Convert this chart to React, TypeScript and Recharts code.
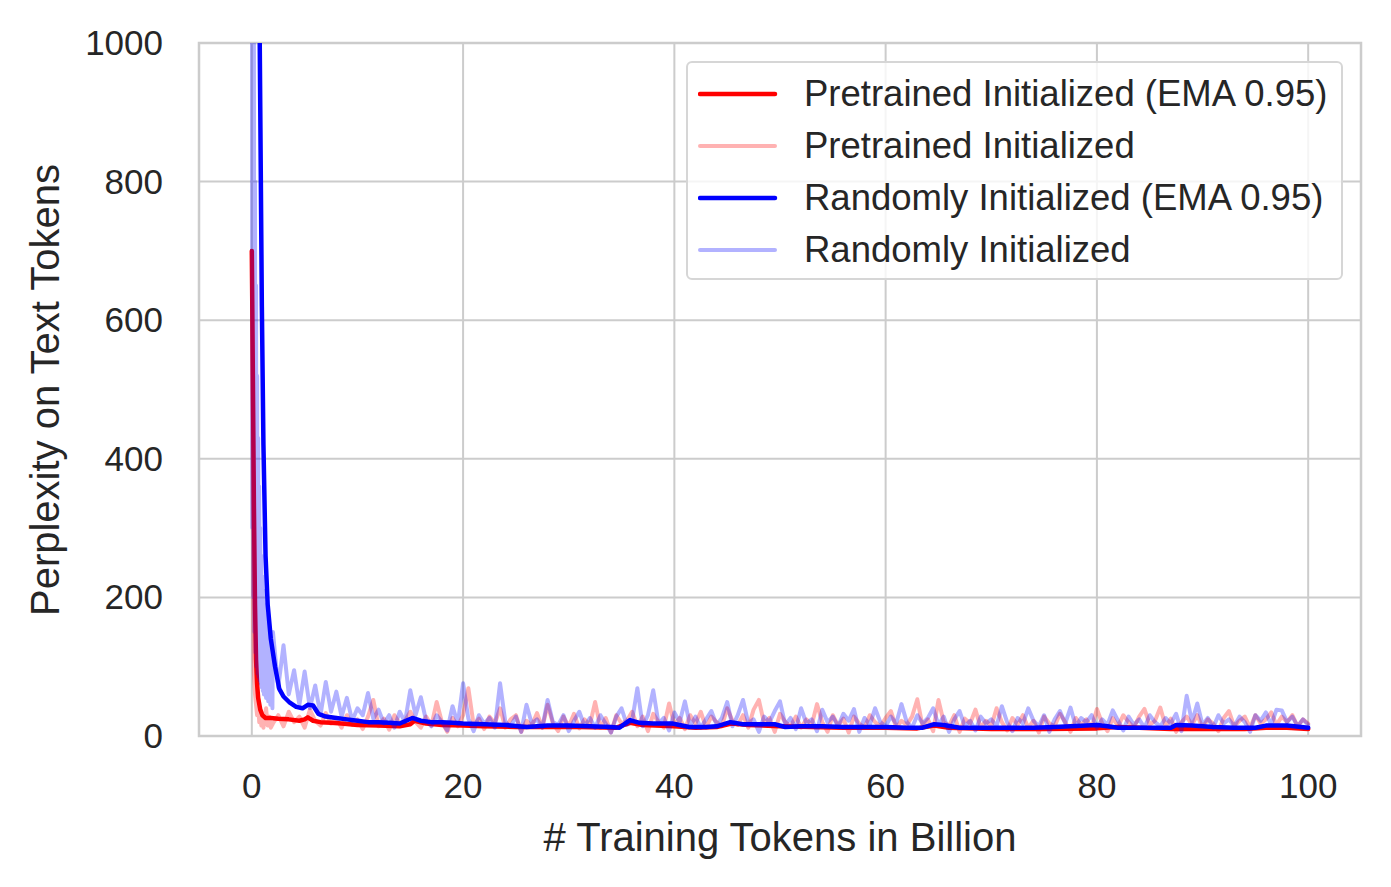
import React from 'react';
import {
  LineChart,
  Line,
  XAxis,
  YAxis,
  CartesianGrid,
  ReferenceArea,
} from 'recharts';

// x ticks / y ticks
const xTicks = [0, 20, 40, 60, 80, 100];
const yTicks = [0, 200, 400, 600, 800, 1000];

// first ~2B tokens, read point by point
const redRawEarlyX = [0, 0.05, 0.1, 0.15, 0.2, 0.3, 0.4, 0.5, 0.6, 0.7, 0.8, 0.9, 1.0, 1.1, 1.2, 1.35, 1.5, 1.65, 1.8];
const redRawEarlyY = [700, 500, 300, 150, 90, 60, 45, 30, 50, 20, 38, 15, 30, 12, 26, 40, 15, 28, 12];

const blueRawEarlyX = [
  0, 0.05, 0.1, 0.15, 0.2, 0.25, 0.3, 0.35, 0.4, 0.45, 0.5, 0.55, 0.6, 0.65, 0.7, 0.75, 0.8, 0.85, 0.9, 0.95,
  1.0, 1.05, 1.1, 1.15, 1.2, 1.25, 1.3, 1.35, 1.4, 1.45, 1.5, 1.55, 1.6, 1.65, 1.7, 1.75, 1.8, 1.85, 1.9, 1.95,
];
const blueRawEarlyY = [
  1400, 300, 1200, 200, 1000, 150, 800, 120, 650, 100, 520, 90, 430, 85, 360, 80, 300, 75, 260, 70,
  230, 65, 210, 60, 190, 60, 175, 55, 165, 55, 155, 50, 150, 50, 140, 45, 130, 45, 120, 40,
];

// after that, one reading every 0.5B tokens starting at 2B
const RAW_START = 2;
const RAW_STEP = 0.5;

const redRaw = [
  18, 30, 14, 35, 20, 28, 12, 38, 22, 15, 33, 18, 26, 12, 30, 16, 24, 10, 28, 52,
  14, 25, 9, 30, 18, 22, 35, 20, 12, 28, 15, 49, 20, 6, 26, 14, 30, 69, 16, 25,
  10, 28, 18, 40, 12, 24, 30, 6, 22, 15, 33, 12, 45, 18, 7, 28, 14, 32, 11, 24,
  16, 49, 12, 26, 5, 30, 18, 22, 35, 14, 28, 7, 32, 20, 12, 47, 16, 26, 10, 30,
  18, 35, 12, 28, 20, 14, 40, 22, 16, 30, 12, 38, 52, 18, 26, 6, 32, 20, 14, 28,
  12, 24, 16, 46, 20, 6, 30, 15, 25, 5, 28, 18, 12, 30, 20, 14, 26, 36, 12, 22,
  16, 28, 53, 14, 24, 7, 52, 20, 15, 30, 6, 25, 18, 38, 12, 22, 14, 40, 20, 8,
  26, 16, 30, 12, 22, 5, 28, 18, 14, 32, 20, 6, 26, 16, 24, 12, 39, 18, 7, 26,
  14, 30, 20, 12, 28, 39, 16, 22, 41, 14, 25, 6, 20, 28, 16, 30, 12, 24, 18, 7,
  26, 36, 14, 22, 28, 12, 30, 18, 24, 34, 16, 28, 20, 30, 14, 24, 18,
];

const blueRaw = [
  150, 70, 131, 60, 95, 45, 93, 40, 73, 30, 78, 35, 64, 28, 55, 22, 40, 30, 62, 25,
  38, 18, 30, 12, 35, 20, 66, 30, 56, 22, 14, 30, 20, 8, 43, 18, 76, 25, 7, 30,
  18, 26, 12, 76, 20, 14, 28, 6, 45, 18, 24, 12, 52, 20, 16, 30, 7, 22, 35, 14,
  26, 12, 30, 18, 5, 28, 40, 16, 22, 69, 14, 30, 66, 18, 26, 8, 34, 20, 50, 14,
  28, 12, 24, 36, 16, 26, 49, 14, 30, 52, 18, 24, 6, 28, 20, 36, 50, 16, 26, 10,
  40, 18, 24, 7, 38, 20, 28, 14, 32, 22, 39, 6, 26, 16, 40, 20, 14, 28, 18, 46,
  20, 12, 30, 18, 26, 40, 16, 28, 6, 24, 36, 14, 22, 8, 28, 18, 24, 14, 43, 20,
  7, 26, 18, 40, 22, 14, 30, 6, 24, 36, 18, 41, 14, 26, 20, 30, 12, 24, 16, 37,
  22, 8, 28, 16, 24, 12, 30, 20, 14, 26, 18, 32, 7, 58, 20, 47, 16, 26, 12, 30,
  18, 24, 14, 28, 20, 6, 30, 22, 34, 16, 38, 37, 20, 28, 14, 24, 16,
];

// EMA 0.95 curves
const redEmaX = [
  0, 0.1, 0.2, 0.3, 0.4, 0.5, 0.6, 0.8, 1.0, 1.3, 1.8, 2.5, 3.5, 4.5, 5.0, 5.3, 5.8, 6.5, 7.5, 8.5,
  10, 12, 14, 15, 15.4, 16.5, 18, 20, 22, 25, 28, 31, 34.5, 35.8, 37, 40, 42, 44, 45.4, 47,
  50, 53, 56, 60, 63, 64.6, 66, 70, 75, 80, 82, 84, 87, 90, 94, 96, 98, 100,
];
const redEmaY = [
  700, 520, 330, 190, 110, 75, 55, 38, 30, 26, 26, 25, 24, 22, 24, 27, 22, 20, 19, 18,
  16, 15, 14, 17, 22, 18, 16, 15, 14, 13, 13, 13, 12, 19, 16, 14, 12, 13, 18, 16,
  14, 13, 12, 12, 11, 15, 12, 10, 10, 11, 13, 12, 10, 10, 10, 12, 12, 10,
];

const blueEmaX = [
  0.6, 0.75, 0.95, 1.1, 1.3, 1.5, 1.8, 2.2, 2.6, 3.0, 3.6, 4.2, 4.8, 5.3, 5.8, 6.3, 7, 8, 9, 10,
  11, 12, 13, 14, 15.2, 16, 17, 18, 19, 20, 22, 24, 26, 28, 30, 32, 34, 34.8, 35.8, 36.7,
  38, 39.8, 41.4, 43, 44, 45.3, 46.5, 48, 49.5, 50.5, 52, 54, 56, 58, 60, 62, 63.5, 64.6, 65.5, 67,
  70, 72, 74, 76, 77.5, 79, 80, 81, 82, 84, 86, 87, 87.5, 89, 91, 93, 95, 96, 98, 100,
];
const blueEmaY = [
  1500, 1000, 620, 420, 260, 190, 140, 100, 68, 57, 48, 42, 40, 45, 44, 32, 28, 26, 24, 22,
  20, 20, 19, 18, 26, 22, 20, 20, 19, 18, 17, 16, 13, 15, 15, 14, 13, 12, 23, 19,
  18, 18, 13, 13, 14, 20, 17, 17, 17, 13, 14, 14, 13, 13, 13, 12, 12, 17, 16, 12,
  12, 12, 12, 13, 14, 15, 16, 14, 12, 12, 12, 12, 16, 15, 13, 12, 12, 15, 15, 12,
];

const pairs = (xs: number[], ys: number[]) => xs.map((x, i) => ({ x, y: ys[i] }));
const regular = (ys: number[]) => ys.map((y, i) => ({ x: RAW_START + i * RAW_STEP, y }));

const redRawData = [...pairs(redRawEarlyX, redRawEarlyY), ...regular(redRaw)];
const blueRawData = [...pairs(blueRawEarlyX, blueRawEarlyY), ...regular(blueRaw)];
const redEmaData = pairs(redEmaX, redEmaY);
const blueEmaData = pairs(blueEmaX, blueEmaY);

const FONT = '"Liberation Sans", Arial, Helvetica, sans-serif';
const TEXT = '#262626';
const GRID = '#cccccc';

const legendItems = [
  { label: 'Pretrained Initialized (EMA 0.95)', color: '#ff0000', opacity: 1, width: 4.5 },
  { label: 'Pretrained Initialized', color: '#ff0000', opacity: 0.3, width: 4 },
  { label: 'Randomly Initialized (EMA 0.95)', color: '#0000ff', opacity: 1, width: 4.5 },
  { label: 'Randomly Initialized', color: '#0000ff', opacity: 0.3, width: 4 },
];

const XTick = (props: any) => (
  <text x={props.x} y={798} textAnchor="middle" fontFamily={FONT} fontSize={35} fill={TEXT}>
    {props.payload.value}
  </text>
);

const YTick = (props: any) => (
  <text x={163} y={props.y + 12} textAnchor="end" fontFamily={FONT} fontSize={35} fill={TEXT}>
    {props.payload.value}
  </text>
);

export default function App() {
  return (
    <div style={{ position: 'absolute', left: 0, top: 0, width: 1391, height: 887, background: '#fff' }}>
      <LineChart width={1391} height={887} margin={{ top: 43, right: 30, left: 0, bottom: 0 }}>
        <CartesianGrid stroke={GRID} strokeWidth={2} />
        <XAxis
          type="number"
          dataKey="x"
          domain={[-5, 105]}
          ticks={xTicks}
          height={151}
          axisLine={false}
          tickLine={false}
          tick={<XTick />}
          allowDataOverflow
        />
        <YAxis
          type="number"
          dataKey="y"
          domain={[0, 1000]}
          ticks={yTicks}
          width={199}
          axisLine={false}
          tickLine={false}
          tick={<YTick />}
          allowDataOverflow
        />
        <ReferenceArea x1={-5} x2={105} y1={0} y2={1000} fill="none" stroke={GRID} strokeWidth={2.5} />
        <Line
          data={redEmaData}
          dataKey="y"
          stroke="#ff0000"
          strokeWidth={4.5}
          dot={false}
          isAnimationActive={false}
          strokeLinejoin="round"
          strokeLinecap="round"
        />
        <Line
          data={redRawData}
          dataKey="y"
          stroke="#ff0000"
          strokeOpacity={0.3}
          strokeWidth={4}
          dot={false}
          isAnimationActive={false}
          strokeLinejoin="round"
          strokeLinecap="round"
        />
        <Line
          data={blueEmaData}
          dataKey="y"
          stroke="#0000ff"
          strokeWidth={4.5}
          dot={false}
          isAnimationActive={false}
          strokeLinejoin="round"
          strokeLinecap="round"
        />
        <Line
          data={blueRawData}
          dataKey="y"
          stroke="#0000ff"
          strokeOpacity={0.3}
          strokeWidth={4}
          dot={false}
          isAnimationActive={false}
          strokeLinejoin="round"
          strokeLinecap="round"
        />
        <text x={780} y={851} textAnchor="middle" fontFamily={FONT} fontSize={40} fill={TEXT}>
          # Training Tokens in Billion
        </text>
        <text
          x={0}
          y={0}
          transform="translate(59, 390) rotate(-90)"
          textAnchor="middle"
          fontFamily={FONT}
          fontSize={40}
          fill={TEXT}
        >
          Perplexity on Text Tokens
        </text>
      </LineChart>
      <div
        style={{
          position: 'absolute',
          left: 686,
          top: 61,
          width: 653,
          height: 215,
          border: '2px solid #d6d6d6',
          borderRadius: 6,
          background: 'rgba(255,255,255,0.8)',
          fontFamily: FONT,
          color: TEXT,
        }}
      >
        {legendItems.map((item, i) => (
          <div
            key={item.label}
            style={{ position: 'absolute', left: 0, top: 5 + i * 52, height: 52, display: 'flex', alignItems: 'center' }}
          >
            <svg width={100} height={10} style={{ marginLeft: 10 }}>
              <line
                x1={2}
                x2={77}
                y1={5}
                y2={5}
                stroke={item.color}
                strokeOpacity={item.opacity}
                strokeWidth={item.width}
                strokeLinecap="round"
              />
            </svg>
            <span style={{ fontSize: 36.5, marginLeft: 6, whiteSpace: 'nowrap' }}>{item.label}</span>
          </div>
        ))}
      </div>
    </div>
  );
}
